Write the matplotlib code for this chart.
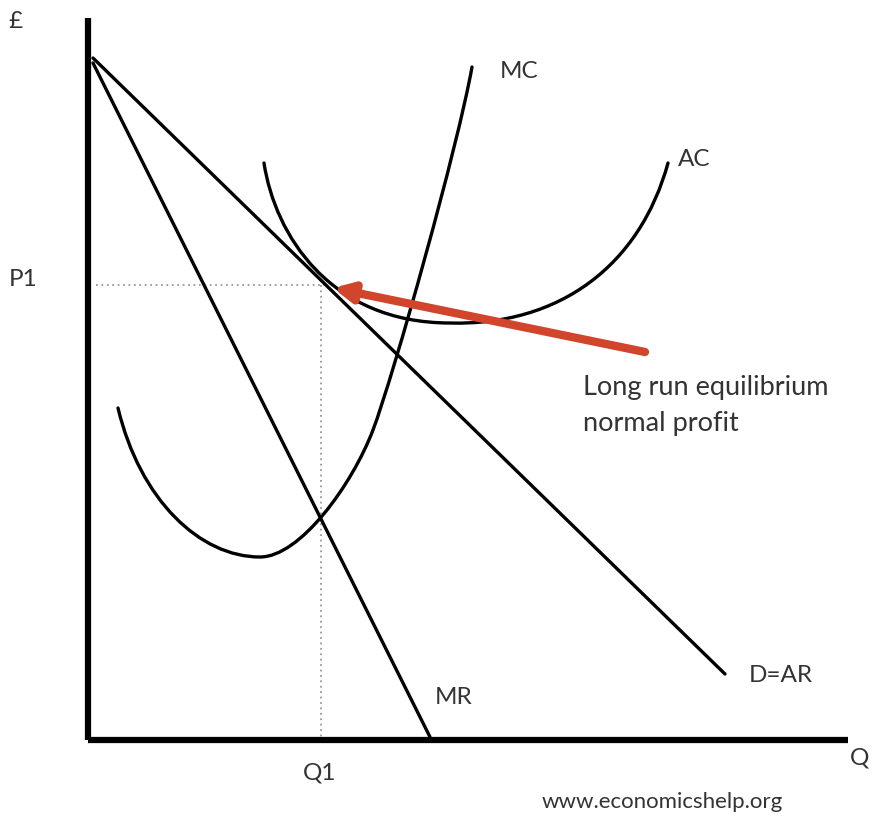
import matplotlib.pyplot as plt
from matplotlib.path import Path
from matplotlib.patches import PathPatch

# points (pixel coordinates, y grows downward)
ar_x = [93, 725]
ar_y = [58, 674]
mr_x = [93, 430]
mr_y = [63, 737]
# AC drawn as two cubic Bezier pieces: start, ctrl, ctrl, min, ctrl, ctrl, end
ac_x = [264, 275, 330, 450, 560, 640, 668]
ac_y = [163, 235, 323, 323, 326, 265, 163]
# MC drawn as three cubic Bezier pieces
mc_x = [118, 140, 200, 260, 300, 352, 373, 394, 458, 472]
mc_y = [408, 500, 557, 557, 557, 485, 430, 374, 146, 67]
p1 = 285
q1 = 321
arrow_tail = (645, 352)
arrow_head = (333, 288)

fig = plt.figure(figsize=(8.72, 8.18), dpi=100)
ax = fig.add_axes([0, 0, 1, 1])
ax.set_xlim(0, 872)
ax.set_ylim(818, 0)
ax.axis('off')

fam = ['Lato', 'DejaVu Sans']
tc = '#333333'

# axes of the diagram
ax.plot([88, 88], [18, 740], color='black', lw=4.5, solid_capstyle='butt')
ax.plot([88, 848], [740, 740], color='black', lw=4.5, solid_capstyle='butt')

# dotted guides
ax.plot([96, q1 + 8], [p1, p1], color='#999999', lw=1.3, ls=(0, (1, 2)))
ax.plot([q1, q1], [p1, 738], color='#999999', lw=1.3, ls=(0, (1, 2)))

lw = 2.4
ax.plot(ar_x, ar_y, color='black', lw=lw, solid_capstyle='round')
ax.plot(mr_x, mr_y, color='black', lw=lw, solid_capstyle='round')


def bezier(xs, ys):
    verts = list(zip(xs, ys))
    codes = [Path.MOVETO] + [Path.CURVE4] * (len(verts) - 1)
    return PathPatch(Path(verts, codes), fill=False, edgecolor='black',
                     lw=lw, capstyle='round')


ax.add_patch(bezier(ac_x, ac_y))
ax.add_patch(bezier(mc_x, mc_y))

# red arrow
ax.annotate('', xy=arrow_head, xytext=arrow_tail,
            arrowprops=dict(arrowstyle='-|>,head_length=1.1,head_width=0.55',
                            color='#d0452b', lw=6, shrinkA=0, shrinkB=0))

# labels
fs = 17.5
ax.text(8, 22, '£', fontsize=fs, color=tc, family=fam, va='center')
ax.text(9, 279, 'P1', fontsize=fs, color=tc, family=fam, va='center')
ax.text(320, 773, 'Q1', fontsize=fs, color=tc, family=fam, va='center', ha='center')
ax.text(850, 758, 'Q', fontsize=fs, color=tc, family=fam, va='center')
ax.text(500, 72, 'MC', fontsize=fs, color=tc, family=fam, va='center')
ax.text(678, 160, 'AC', fontsize=fs, color=tc, family=fam, va='center')
ax.text(749, 675, 'D=AR', fontsize=fs, color=tc, family=fam, va='center')
ax.text(435, 698, 'MR', fontsize=fs, color=tc, family=fam, va='center')
ax.text(583, 388, 'Long run equilibrium', fontsize=19.5, color=tc, family=fam, va='center')
ax.text(583, 424, 'normal profit', fontsize=19.5, color=tc, family=fam, va='center')
ax.text(542, 802, 'www.economicshelp.org', fontsize=16, color=tc, family=fam, va='center')

fig.savefig('out.png', dpi=100)
